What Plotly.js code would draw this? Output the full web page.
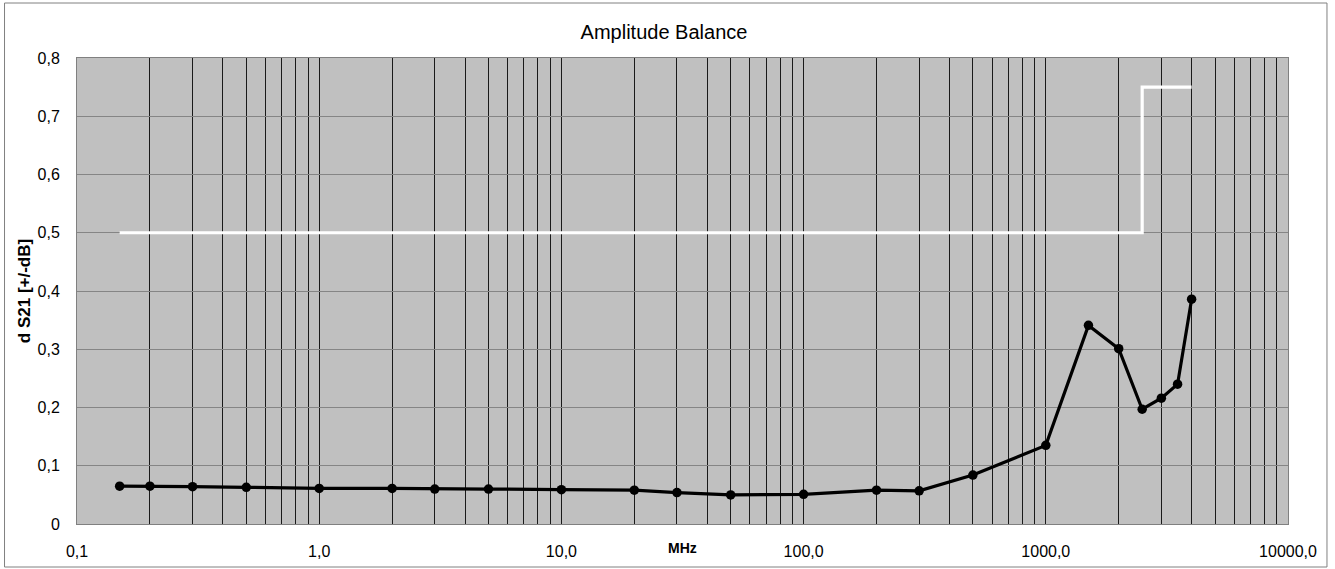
<!DOCTYPE html>
<html><head><meta charset="utf-8">
<script src="https://cdn.plot.ly/plotly-3.0.1.min.js"></script>
<style>html,body{margin:0;padding:0;background:#fff;}#chart{width:1335px;height:569px;}</style>
</head><body><div id="chart"></div>
<script>
// Measured data
const freqMHz = [0.15, 0.2, 0.3, 0.5, 1, 2, 3, 5, 10, 20, 30, 50, 100, 200, 300, 500, 1000, 1500, 2000, 2500, 3000, 3500, 4000];
const dS21 = [0.065, 0.065, 0.064, 0.063, 0.061, 0.061, 0.060, 0.060, 0.059, 0.058, 0.054, 0.050, 0.051, 0.058, 0.057, 0.084, 0.135, 0.341, 0.301, 0.197, 0.216, 0.240, 0.386];
// Limit line
const limitFreq = [0.15, 2500, 2500, 4000];
const limitVal = [0.5, 0.5, 0.75, 0.75];
// Axis ticks
const decades = [0.1, 1, 10, 100, 1000, 10000];
const decadeLabels = ['0,1', '1,0', '10,0', '100,0', '1000,0', '10000,0'];
const yTicks = [0, 0.1, 0.2, 0.3, 0.4, 0.5, 0.6, 0.7, 0.8];

const xTickVals = [], xTickText = [];
decades.forEach((d, i) => {
  xTickVals.push(d); xTickText.push(decadeLabels[i]);
  if (i < decades.length - 1) {
    for (let m = 2; m <= 9; m++) { xTickVals.push(d * m); xTickText.push(''); }
  }
});

const font = "'Liberation Sans', Arial, sans-serif";
const traces = [
  {x: limitFreq, y: limitVal, mode: 'lines', line: {color: '#ffffff', width: 3.2}, hoverinfo: 'skip'},
  {x: freqMHz, y: dS21, mode: 'lines+markers', line: {color: '#000000', width: 3.2}, marker: {color: '#000000', size: 9.5}}
];

const L = 76.5, R = 1288, T = 58, B = 524;
const pw = R - L, ph = B - T;
const layout = {
  width: 1335, height: 569,
  margin: {l: L, r: 1335 - R, t: T, b: 569 - B, pad: 0},
  paper_bgcolor: '#ffffff', plot_bgcolor: '#c0c0c0',
  showlegend: false,
  separators: ',.',
  font: {family: font, size: 16, color: '#000'},
  title: {text: 'Amplitude Balance', font: {family: font, size: 20, color: '#000'}, x: 664 / 1335, xanchor: 'center', y: 1 - 32 / 569, yanchor: 'middle'},
  xaxis: {
    type: 'log', range: [-1, 4],
    tickmode: 'array', tickvals: xTickVals, ticktext: xTickText,
    showgrid: true, gridcolor: '#1a1a1a', gridwidth: 1,
    ticks: '', ticklabelstandoff: 13,
    zeroline: false, showline: true, linecolor: '#808080', linewidth: 1, mirror: true,
    tickfont: {family: font, size: 16, color: '#000'}
  },
  yaxis: {
    range: [0, 0.8], tickmode: 'array', tickvals: yTicks,
    showgrid: true, gridcolor: '#858585', gridwidth: 1,
    ticks: '', ticklabelstandoff: 13,
    zeroline: false, showline: true, linecolor: '#808080', linewidth: 1, mirror: true,
    tickfont: {family: font, size: 16, color: '#000'},
    title: {text: '<b>d S21 [+/-dB]</b>', font: {family: font, size: 17, color: '#000'}, standoff: 2}
  },
  annotations: [
    {text: '<b>MHz</b>', xref: 'paper', yref: 'paper', x: 0.5, y: (B - 548) / ph, xanchor: 'center', yanchor: 'middle', showarrow: false, font: {family: font, size: 14, color: '#000'}}
  ],
  shapes: [
    {type: 'rect', xref: 'paper', yref: 'paper', x0: (4 - L) / pw, x1: (1327 - L) / pw, y0: (B - 567) / ph, y1: (B - 3) / ph, line: {color: '#808080', width: 1}, fillcolor: 'rgba(0,0,0,0)', layer: 'below'}
  ]
};
Plotly.newPlot('chart', traces, layout, {displayModeBar: false, staticPlot: true});
</script></body></html>
